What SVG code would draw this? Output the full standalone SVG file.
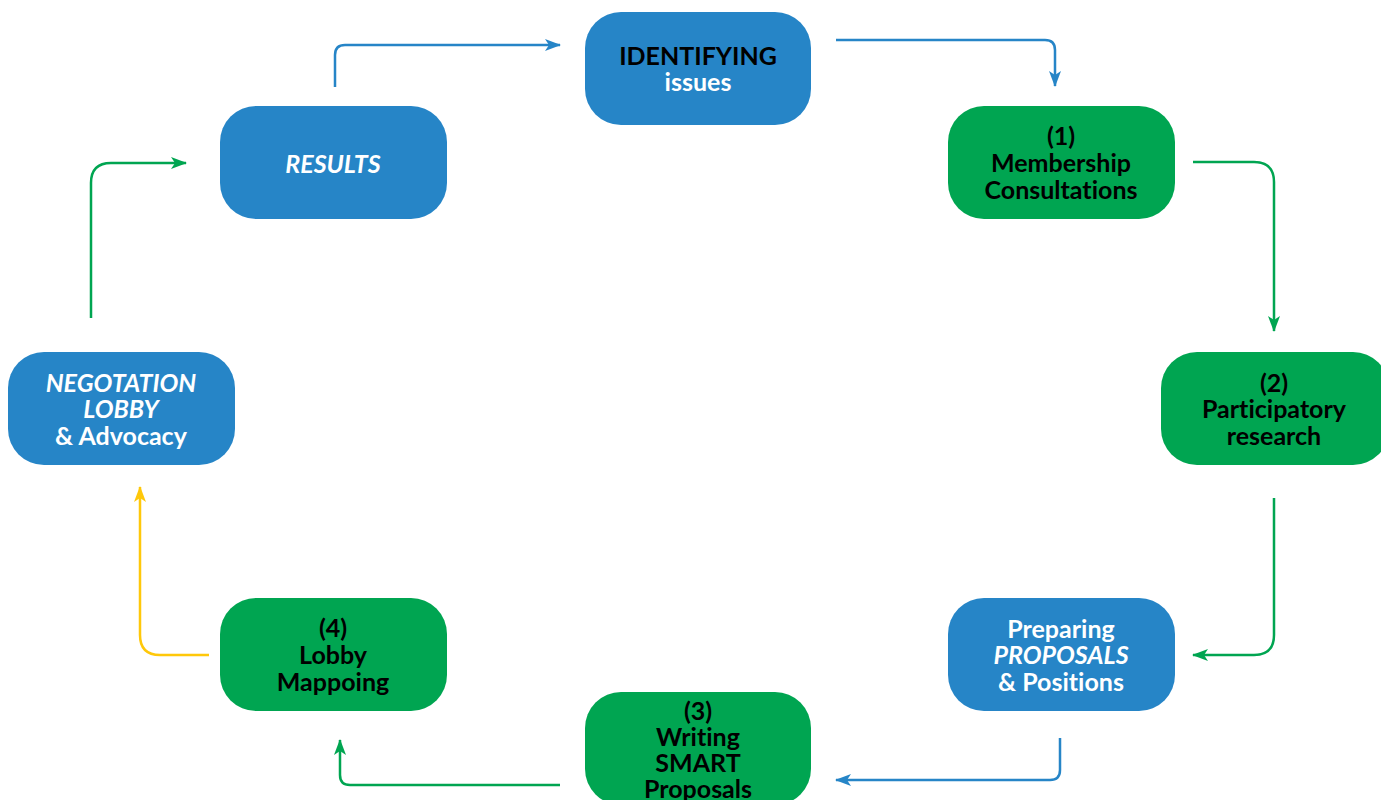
<svg xmlns="http://www.w3.org/2000/svg" width="1381" height="800" viewBox="0 0 1381 800">
<style>
.blue{fill:#2685C7}
.green{fill:#00A551}
.t{font-family:Lato,"Noto Sans","Liberation Sans",sans-serif;font-size:25px;text-anchor:middle;font-weight:bold;font-variant-ligatures:none}
.k{fill:#000}
.w{fill:#fff}
.i{font-style:italic}
.c{fill:none;stroke-width:2.5}
.cb{stroke:#2685C7}
.cg{stroke:#00A551}
.cy{stroke:#FFC80A}
</style>
<defs>
<marker id="ab" viewBox="0 0 16 12" refX="15" refY="6" markerWidth="16" markerHeight="12" markerUnits="userSpaceOnUse" orient="auto"><path d="M0,0 L16,6 L0,12 L4,6 Z" fill="#2685C7"/></marker>
<marker id="ag" viewBox="0 0 16 12" refX="15" refY="6" markerWidth="16" markerHeight="12" markerUnits="userSpaceOnUse" orient="auto"><path d="M0,0 L16,6 L0,12 L4,6 Z" fill="#00A551"/></marker>
<marker id="ay" viewBox="0 0 16 12" refX="15" refY="6" markerWidth="16" markerHeight="12" markerUnits="userSpaceOnUse" orient="auto"><path d="M0,0 L16,6 L0,12 L4,6 Z" fill="#FFC80A"/></marker>
</defs>
<g id="connectors">
<path class="c cb" d="M836,40 H1045 Q1055,40 1055,50 V86" marker-end="url(#ab)"/>
<path class="c cg" d="M1193,162 H1254 Q1274,162 1274,182 V331" marker-end="url(#ag)"/>
<path class="c cg" d="M1274,498 V635 Q1274,655 1254,655 H1193" marker-end="url(#ag)"/>
<path class="c cb" d="M1060,738 V770 Q1060,780 1050,780 H836" marker-end="url(#ab)"/>
<path class="c cg" d="M560,785 H350 Q340,785 340,775 V740" marker-end="url(#ag)"/>
<path class="c cy" d="M209,655 H160 Q140,655 140,635 V487" marker-end="url(#ay)"/>
<path class="c cg" d="M91,318 V183 Q91,163 111,163 H186" marker-end="url(#ag)"/>
<path class="c cb" d="M335,87 V55 Q335,45 345,45 H560" marker-end="url(#ab)"/>
</g>
<g id="identifying">
<rect class="blue" x="585" y="12" width="226" height="113" rx="36"/>
<text class="t k" x="698" y="65">IDENTIFYING</text>
<text class="t w" x="698" y="91">issues</text>
</g>
<g id="membership">
<rect class="green" x="948" y="106" width="227" height="113" rx="36"/>
<text class="t k" x="1061" y="145">(1)</text>
<text class="t k" x="1061" y="172">Membership</text>
<text class="t k" x="1061" y="199">Consultations</text>
</g>
<g id="participatory">
<rect class="green" x="1161" y="352" width="228" height="113" rx="36"/>
<text class="t k" x="1274" y="392">(2)</text>
<text class="t k" x="1274" y="418">Participatory</text>
<text class="t k" x="1274" y="445">research</text>
</g>
<g id="preparing">
<rect class="blue" x="948" y="598" width="227" height="113" rx="36"/>
<text class="t w" x="1061" y="638">Preparing</text>
<text class="t w i" x="1061" y="664" font-weight="normal">PROPOSALS</text>
<text class="t w" x="1061" y="691">&amp; Positions</text>
</g>
<g id="writing">
<rect class="green" x="585" y="692" width="226" height="113" rx="36"/>
<text class="t k" x="698" y="720">(3)</text>
<text class="t k" x="698" y="746">Writing</text>
<text class="t k" x="698" y="772">SMART</text>
<text class="t k" x="698" y="798">Proposals</text>
</g>
<g id="lobby-mapping">
<rect class="green" x="220" y="598" width="227" height="113" rx="36"/>
<text class="t k" x="333" y="637">(4)</text>
<text class="t k" x="333" y="664">Lobby</text>
<text class="t k" x="333" y="691">Mappoing</text>
</g>
<g id="negotiation">
<rect class="blue" x="8" y="352" width="227" height="113" rx="36"/>
<text class="t w i" x="121" y="392">NEGOTATION</text>
<text class="t w i" x="121" y="418">LOBBY</text>
<text class="t w" x="121" y="445">&amp; Advocacy</text>
</g>
<g id="results">
<rect class="blue" x="220" y="106" width="227" height="113" rx="36"/>
<text class="t w i" x="333" y="173">RESULTS</text>
</g>
</svg>
